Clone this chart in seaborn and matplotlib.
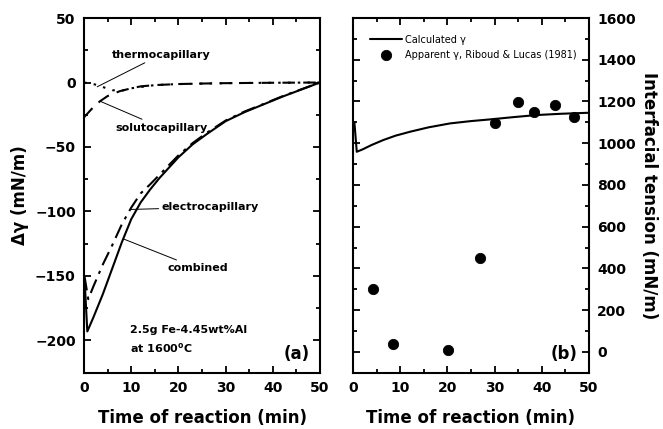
import numpy as np
import pandas as pd
import matplotlib
matplotlib.use('Agg')
import matplotlib.pyplot as plt
from matplotlib.ticker import MultipleLocator
import seaborn as sns

sns.set_style('ticks')
plt.rcParams['font.family'] = ['DejaVu Sans']
for key in ['text.color', 'axes.labelcolor', 'xtick.color', 'ytick.color', 'axes.edgecolor']:
    plt.rcParams[key] = 'black'

# (a) surface tension change components
comb_t = [0.2, 0.7, 2, 4, 6, 8, 10, 12, 14, 16, 18, 20, 23, 26, 30, 34, 38, 42, 46, 50]
comb_v = [-158, -193, -182, -164, -144, -124, -106, -93, -83, -74, -66, -58, -48, -40, -30, -23, -17, -11, -5.5, 0]

elec_t = [0.1, 0.9, 2, 4, 6, 8, 10, 12, 14, 16, 18, 20, 23, 26, 30, 34, 38, 42, 46, 50]
elec_v = [-150, -168, -158, -141, -126, -110, -97, -86, -79, -71.5, -64, -56.5, -47, -39, -29.5, -22.5, -16.7, -10.7, -5.3, 0]

solu_t = [0, 1, 2, 3.4, 5, 7.6, 10, 12, 15, 20, 25, 30, 40, 50]
solu_v = [-27, -23, -19, -14.5, -10.5, -6.7, -4.5, -3, -2, -1.2, -0.8, -0.5, -0.2, 0]

thermo_t = [0, 1, 2.3, 4.4, 6.1, 8, 10, 15, 20, 30, 40, 50]
thermo_v = [0, -0.5, -1.5, -4, -6, -6.3, -4.5, -2, -1.2, -0.5, -0.2, 0]

# (b) interfacial tension
calc_t = [0.3, 0.8, 2, 4, 6.4, 9, 12.1, 16, 20.6, 25, 29, 34, 38.9, 44, 50]
calc_v = [1100, 959, 970, 992, 1015, 1036, 1055, 1076, 1095, 1106, 1114, 1125, 1135, 1141, 1146]

obs_t = [4.2, 8.4, 20.2, 26.9, 30.1, 34.9, 38.4, 42.9, 46.8]
obs_v = [299, 37, 11, 448, 1098, 1197, 1148, 1184, 1127]

fig = plt.figure(figsize=(6.63, 4.29), dpi=100)
ax1 = fig.add_axes([0.1267, 0.1312, 0.356, 0.8268])
ax2 = fig.add_axes([0.5324, 0.1312, 0.356, 0.8268])

lw = 1.5
sns.lineplot(x=comb_t, y=comb_v, ax=ax1, color='k', lw=lw, linestyle='-')
sns.lineplot(x=elec_t, y=elec_v, ax=ax1, color='k', lw=lw, linestyle=(0, (7, 3, 1.5, 3)))
sns.lineplot(x=solu_t, y=solu_v, ax=ax1, color='k', lw=lw, linestyle=(0, (6, 4)))
sns.lineplot(x=thermo_t, y=thermo_v, ax=ax1, color='k', lw=lw, linestyle=(0, (1.2, 3.5)))

sns.lineplot(x=calc_t, y=calc_v, ax=ax2, color='k', lw=lw, label='Calculated γ')
sns.scatterplot(x=obs_t, y=obs_v, ax=ax2, color='k', s=55, edgecolor='k',
                label='Apparent γ, Riboud & Lucas (1981)')

for ax in (ax1, ax2):
    ax.set_xlim(0, 50)
    ax.xaxis.set_major_locator(MultipleLocator(10))
    ax.xaxis.set_minor_locator(MultipleLocator(5))
    ax.tick_params(which='both', direction='in', top=True, right=True, left=True, bottom=True, width=1.3)
    ax.tick_params(which='major', length=5, labelsize=10, pad=6)
    ax.tick_params(which='minor', length=3)
    for sp in ax.spines.values():
        sp.set_linewidth(1.5)
        sp.set_visible(True)
    ax.set_xlabel('Time of reaction (min)', fontsize=12, fontweight='bold', labelpad=10)

ax1.set_ylim(-225, 50)
ax1.yaxis.set_major_locator(MultipleLocator(50))
ax1.yaxis.set_minor_locator(MultipleLocator(25))
ax1.set_ylabel('Δγ (mN/m)', fontsize=12, fontweight='bold', labelpad=4)

ax2.set_ylim(-100, 1600)
ax2.yaxis.set_major_locator(MultipleLocator(200))
ax2.yaxis.set_minor_locator(MultipleLocator(100))
ax2.tick_params(axis='y', labelleft=False, labelright=True)
ax2.yaxis.set_label_position('right')
ax2.set_ylabel('Interfacial tension (mN/m)', fontsize=12, fontweight='bold', rotation=270, labelpad=16)

for ax in (ax1, ax2):
    for lab in ax.get_xticklabels() + ax.get_yticklabels():
        lab.set_fontweight('bold')

ann = dict(fontsize=8, fontweight='bold', va='center', ha='left')
arr = dict(arrowstyle='-', lw=0.7, color='k', shrinkA=0, shrinkB=0)
ax1.annotate('thermocapillary', xy=(2.8, -3.3), xytext=(5.9, 21.7), arrowprops=arr, **ann)
ax1.annotate('solutocapillary', xy=(3.4, -14.5), xytext=(6.6, -34.9), arrowprops=arr, **ann)
ax1.annotate('electrocapillary', xy=(10.0, -98.4), xytext=(16.5, -96.7), arrowprops=arr, **ann)
ax1.annotate('combined', xy=(8.3, -121.2), xytext=(17.6, -144), arrowprops=arr, **ann)
ax1.text(9.7, -191.5, '2.5g Fe-4.45wt%Al', **ann)
ax1.text(9.7, -206, 'at 1600$^{\\mathregular{o}}$C', **ann)
ax1.text(0.958, 0.053, '(a)', transform=ax1.transAxes, fontsize=12, fontweight='bold', ha='right', va='center')
ax2.text(0.953, 0.053, '(b)', transform=ax2.transAxes, fontsize=12, fontweight='bold', ha='right', va='center')

ax2.legend(loc='upper left', bbox_to_anchor=(0.04, 0.975), frameon=False, fontsize=7,
           handlelength=3.3, handletextpad=0.3, labelspacing=0.55, borderpad=0.3)

fig.savefig('out.png', dpi=100)
